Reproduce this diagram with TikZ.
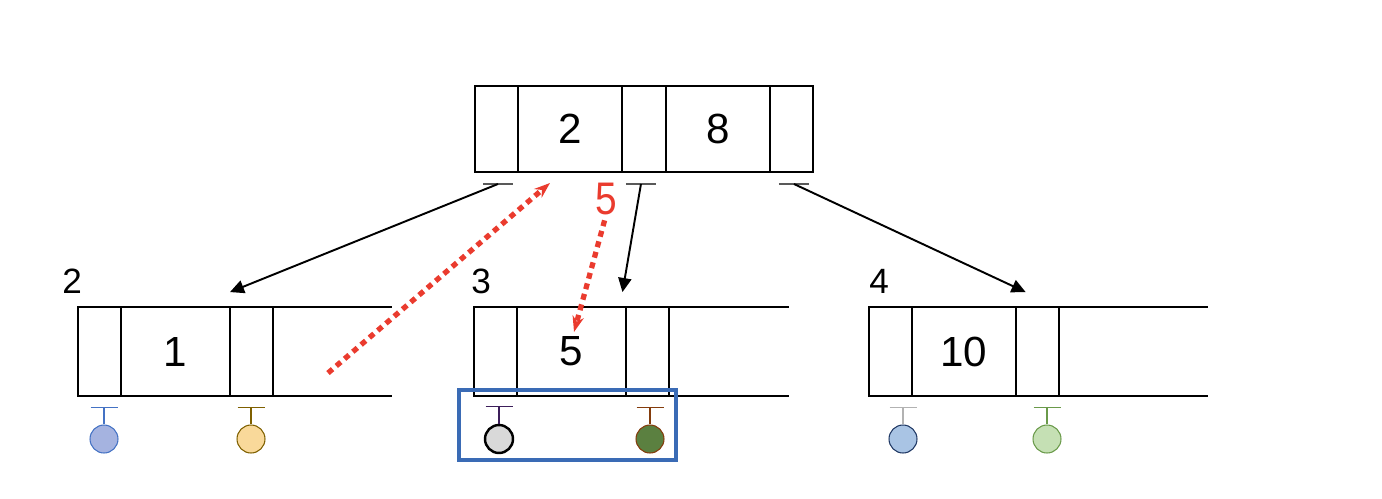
\documentclass[tikz,border=0pt]{standalone}
\usepackage{fontspec}
\setmainfont{Liberation Sans}
\usepackage{xcolor}
\usetikzlibrary{arrows.meta,positioning,calc}

\definecolor{movered}{HTML}{EA3B2E}
\definecolor{hlblue}{HTML}{3A6BB5}
\definecolor{recA}{HTML}{A5B3E0}
\definecolor{recAd}{HTML}{4472C4}
\definecolor{recB}{HTML}{F9D99A}
\definecolor{recBd}{HTML}{7F6000}
\definecolor{recC}{HTML}{D9D9D9}
\definecolor{recCt}{HTML}{3C1E5A}
\definecolor{recD}{HTML}{5B8040}
\definecolor{recDd}{HTML}{843C0C}
\definecolor{recE}{HTML}{A9C4E4}
\definecolor{recEd}{HTML}{1F3864}
\definecolor{recF}{HTML}{C5E0B4}
\definecolor{recFd}{HTML}{6A9A4A}

\begin{document}
\begin{tikzpicture}[
  x=0.02cm, y=-0.02cm,
  font=\fontsize{24}{28}\selectfont,
  cell/.style={draw, line width=1.6pt, minimum height=1.78cm, inner sep=0pt, outer sep=0pt},
  ptrcell/.style={cell, minimum width=0.86cm},
  lbl/.style={font=\fontsize{20}{22}\selectfont, inner sep=0pt, anchor=south west},
  link/.style={-{Triangle[length=8pt,width=7.5pt]}, line width=1.1pt},
  move/.style={-{Stealth[length=9pt,width=6.5pt]}, movered, line width=3pt, dash pattern=on 3.4pt off 2.8pt},
  tick/.style={line width=0.8pt},
  rec/.style={circle, draw, minimum size=0.56cm, inner sep=0pt},
  hilite/.style={draw=hlblue, line width=2.8pt},
]
\useasboundingbox (0,0) rectangle (1382,498);
% root
\node[ptrcell, minimum height=1.72cm, anchor=north west] (t0) at (475,86) {};
\node[cell, minimum height=1.72cm, minimum width=2.08cm, right=0pt of t0] (t1) {2};
\node[ptrcell, minimum height=1.72cm, minimum width=0.88cm, right=0pt of t1] (t2) {};
\node[cell, minimum height=1.72cm, minimum width=2.08cm, right=0pt of t2] (t3) {8};
\node[ptrcell, minimum height=1.72cm, right=0pt of t3] (t4) {};
\foreach \i/\dx in {0/1.5,2/-3,4/2.5}{
  \coordinate (p\i) at ($(t\i.south)+(\dx,12)$);
  \draw[tick, black!65] (p\i) ++(-15,0) -- ++(30,0);
}
% leaves
\foreach \nm/\x/\kw/\ow/\lx/\num/\key in {a/78/2.18cm/119/62/2/1, b/474/2.18cm/120/471/3/5, c/869/2.08cm/149/869/4/10}{
  \node[ptrcell, anchor=north west] (\nm0) at (\x,307) {};
  \node[cell, minimum width=\kw, right=0pt of \nm0] (\nm1) {\key};
  \node[ptrcell, right=0pt of \nm1] (\nm2) {};
  \draw[line width=1.6pt] (\nm2.north east) -- ++(\ow,0);
  \draw[line width=1.6pt] (\nm2.south east) -- ++(\ow,0);
  \node[lbl] (\nm n) at (\lx,294) {\num};
}
% records
\foreach \nm/\x/\fc/\dc/\tc/\lw in {a0/104/recA/recAd/recAd/0.6pt, a2/251/recB/recBd/recBd/0.6pt,
    b0/499/recC/black/recCt/1.4pt, b2/650/recD/recDd/recDd/0.6pt,
    c0/903/recE/recEd/black!30/0.6pt, c2/1047/recF/recFd/recFd/0.6pt}{
  \node[rec, fill=\fc, draw=\dc, line width=\lw] (r\nm) at (\x,439) {};
  \draw[tick, \tc] (r\nm.north) -- ++(0,-17) coordinate (s\nm);
  \draw[tick, \tc] (s\nm) ++(-13.5,0) -- ++(27,0);
}
\draw[hilite] (459,390) rectangle (676,460);
% child pointers
\draw[link] (p0) -- ([yshift=8.5pt]a1.north east);
\draw[link] (p2) -- ([xshift=-2pt,yshift=8.5pt]b1.north east);
\draw[link] (p4) -- ([xshift=5.5pt,yshift=8.5pt]c1.north east);
% moved key
\node[text=movered, font=\fontsize{26}{28}\selectfont, inner sep=0pt, xscale=0.85] (sep) at (606,199) {5};
\coordinate (m0) at (328,373);
\coordinate (m1) at (550,183);
\coordinate (m2) at (574,332);
\draw[move] (m0) -- (m1);
\draw[move, shorten <=3pt] (sep.south) -- (m2);
\end{tikzpicture}
\end{document}
